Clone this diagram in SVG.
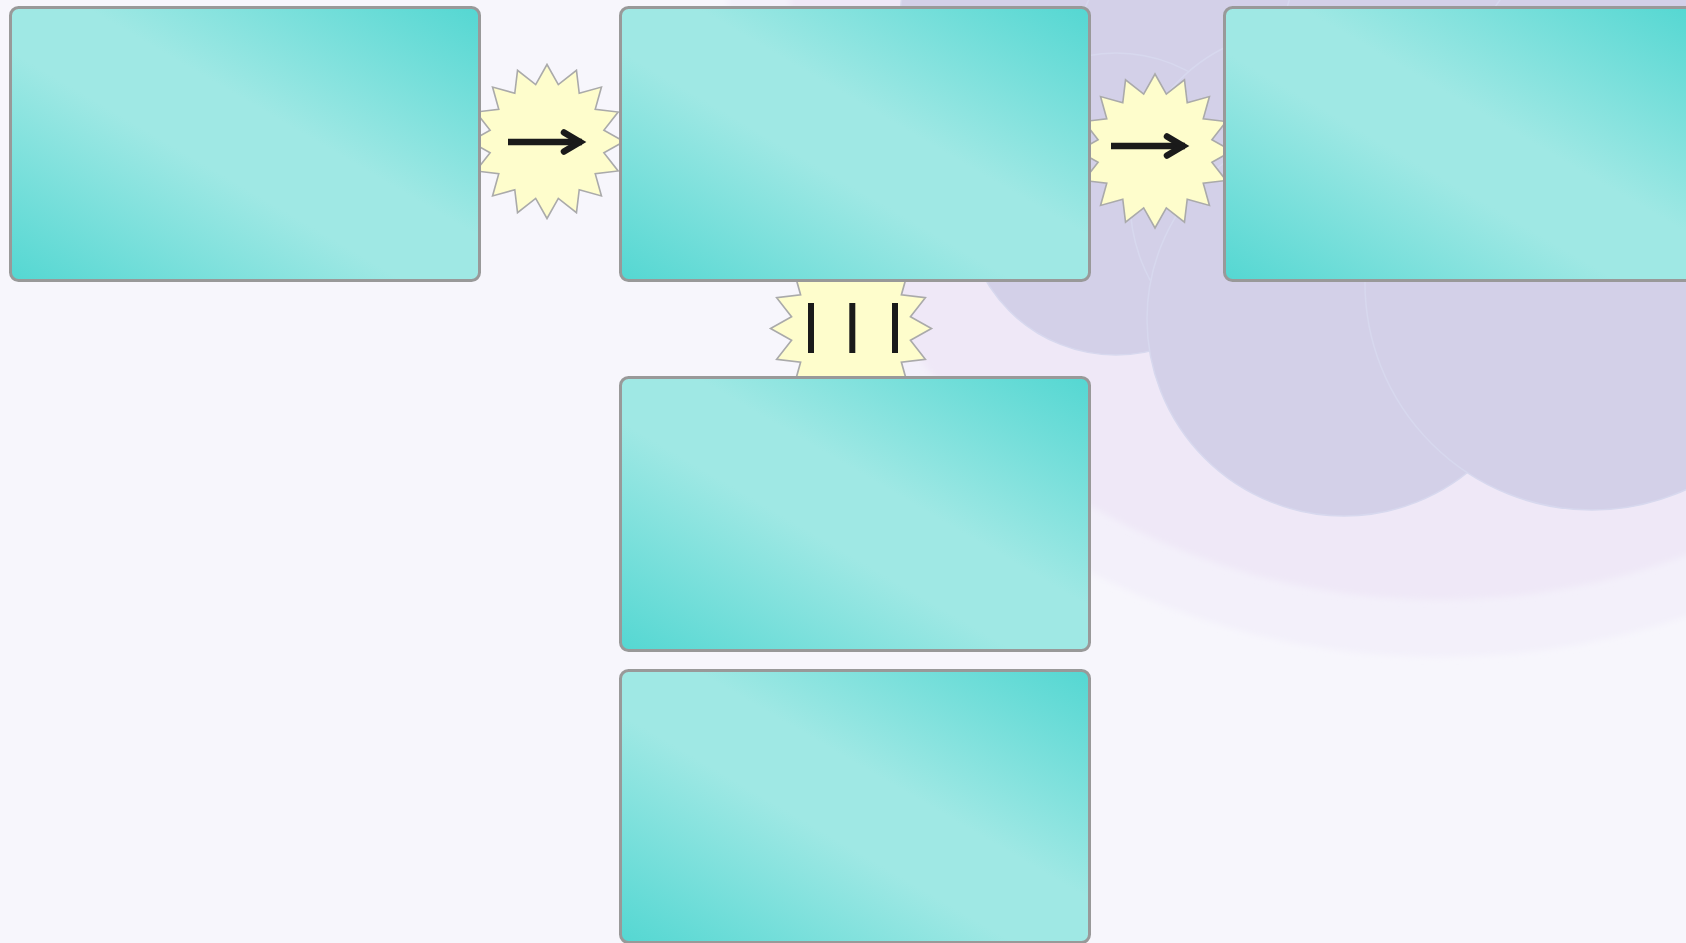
<svg xmlns="http://www.w3.org/2000/svg" width="1686" height="943" viewBox="0 0 1686 943">
  <style>
    .node { stroke: #999999; stroke-width: 3; fill: url(#teal); }
    .burst { fill: #fefdcc; stroke: #aaaaaa; stroke-width: 1.6; }
    .cloud { fill: #d3d0e8; stroke: #d7d8ee; stroke-width: 1.5; }
    .shaft { stroke: #1a1a1a; stroke-width: 6.5; fill: none; stroke-linecap: butt; }
    .head { stroke: #1a1a1a; stroke-width: 6.5; fill: none; stroke-linecap: round; stroke-linejoin: miter; stroke-miterlimit: 10; }
    .bar { fill: #1a1a1a; }
  </style>
  <defs>
    <linearGradient id="teal" x1="0" y1="1" x2="1" y2="0">
      <stop offset="0" stop-color="#54d7d2"/>
      <stop offset="0.42" stop-color="#9fe8e4"/>
      <stop offset="0.58" stop-color="#9fe8e4"/>
      <stop offset="1" stop-color="#54d7d2"/>
    </linearGradient>
    <polygon id="star" points="77,0 56.89,11.32 71.14,29.47 48.23,32.22 54.45,54.45 32.22,48.23 29.47,71.14 11.32,56.89 0,77 -11.32,56.89 -29.47,71.14 -32.22,48.23 -54.45,54.45 -48.23,32.22 -71.14,29.47 -56.89,11.32 -77,0 -56.89,-11.32 -71.14,-29.47 -48.23,-32.22 -54.45,-54.45 -32.22,-48.23 -29.47,-71.14 -11.32,-56.89 0,-77 11.32,-56.89 29.47,-71.14 32.22,-48.23 54.45,-54.45 48.23,-32.22 71.14,-29.47 56.89,-11.32"/>
    <filter id="soft" x="-10%" y="-10%" width="120%" height="120%">
      <feGaussianBlur stdDeviation="3"/>
    </filter>
  </defs>

  <g id="background">
    <rect x="0" y="0" width="1686" height="943" fill="#f7f6fc"/>
    <ellipse cx="1440" cy="0" rx="712" ry="657" fill="#f3f0fa" filter="url(#soft)"/>
    <ellipse cx="1440" cy="0" rx="650" ry="600" fill="#efe8f7" filter="url(#soft)"/>
    <circle class="cloud" cx="1040" cy="20" r="140"/>
    <circle class="cloud" cx="1250" cy="80" r="180"/>
    <circle class="cloud" cx="1480" cy="60" r="200"/>
    <circle class="cloud" cx="1660" cy="120" r="200"/>
    <circle class="cloud" cx="1116" cy="204" r="151"/>
    <circle class="cloud" cx="1300" cy="200" r="170"/>
    <circle class="cloud" cx="1500" cy="230" r="190"/>
    <circle class="cloud" cx="1344" cy="319" r="197"/>
    <circle class="cloud" cx="1592" cy="283" r="227"/>
  </g>

  <g id="connectors">
    <g id="link-1-2">
      <use href="#star" class="burst" transform="translate(547,141.5)"/>
      <line class="shaft" x1="508" y1="142" x2="582" y2="142"/>
      <polyline class="head" points="564,132.5 580,142 564,151.5"/>
    </g>
    <g id="link-2-3">
      <use href="#star" class="burst" transform="translate(1155,151)"/>
      <line class="shaft" x1="1111" y1="146" x2="1185" y2="146"/>
      <polyline class="head" points="1167,136.5 1183,146 1167,155.5"/>
    </g>
    <g id="link-2-4">
      <use href="#star" class="burst" transform="translate(851,328.5) scale(1.045)" style="vector-effect:non-scaling-stroke"/>
      <rect class="bar" x="808" y="303" width="6" height="50"/>
      <rect class="bar" x="849.3" y="303" width="6" height="50"/>
      <rect class="bar" x="892" y="303" width="6" height="50"/>
    </g>
  </g>

  <g id="nodes">
    <g id="node-1"><rect class="node" x="10.5" y="7.5" width="469" height="273" rx="8"/></g>
    <g id="node-2"><rect class="node" x="620.5" y="7.5" width="469" height="273" rx="8"/></g>
    <g id="node-3"><rect class="node" x="1224.5" y="7.5" width="469" height="273" rx="8"/></g>
    <g id="node-4"><rect class="node" x="620.5" y="377.5" width="469" height="273" rx="8"/></g>
    <g id="node-5"><rect class="node" x="620.5" y="670.5" width="469" height="272" rx="8"/></g>
  </g>
</svg>
